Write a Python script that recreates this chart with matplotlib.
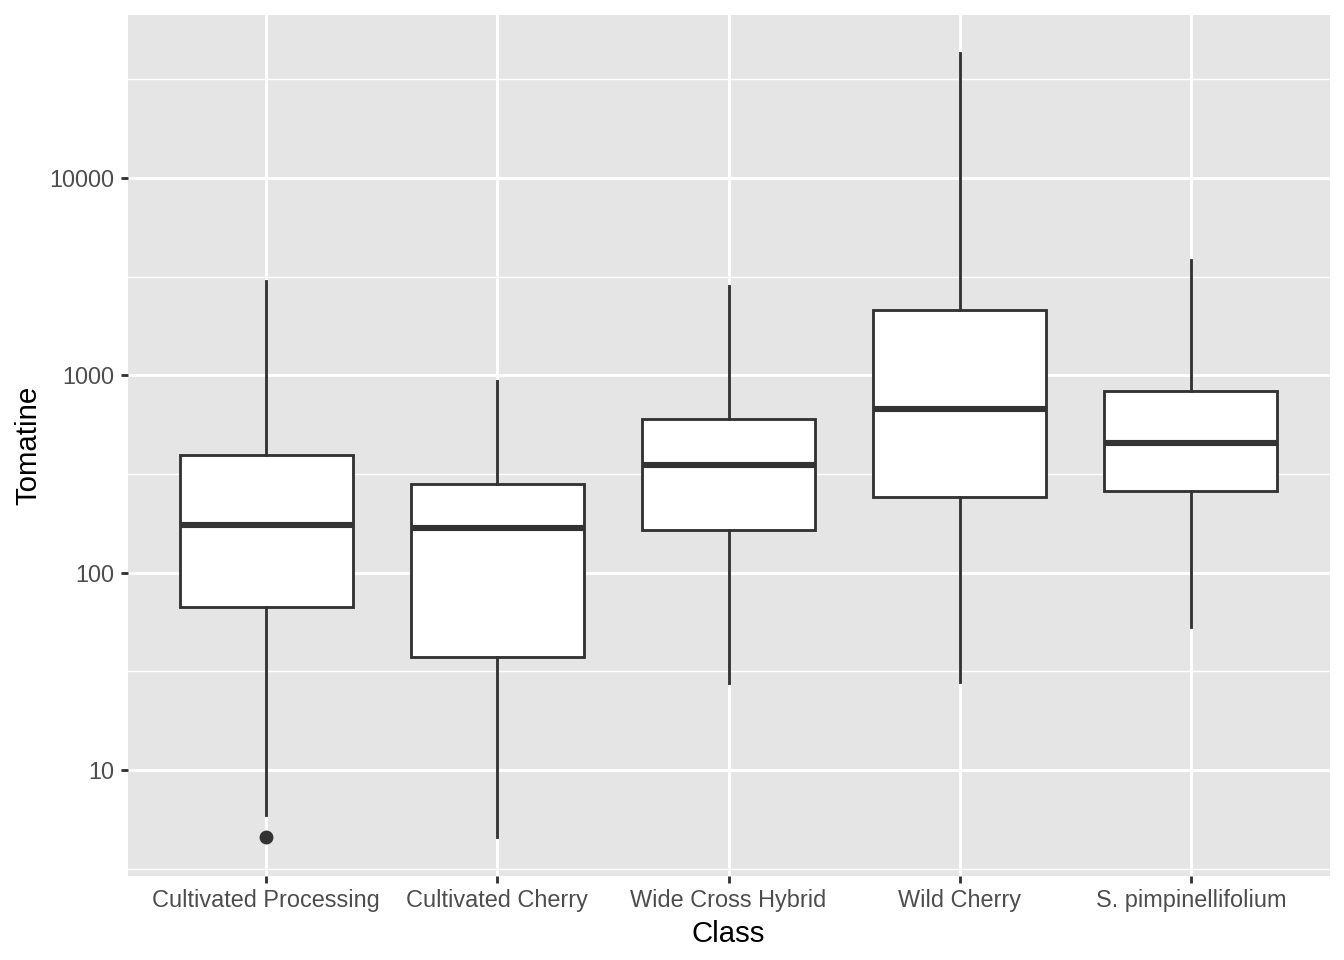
import numpy as np
import matplotlib as mpl
import matplotlib.pyplot as plt

mpl.use('Agg')

classes = ["Cultivated Processing", "Cultivated Cherry", "Wide Cross Hybrid",
           "Wild Cherry", "S. pimpinellifolium"]
whisker_low = [5.9, 4.6, 27.7, 27.9, 53]
q1 = [67, 37.5, 165, 243, 258]
median = [175, 169, 353, 679, 452]
q3 = [393, 280, 598, 2140, 830]
whisker_high = [3000, 933, 2830, 43100, 3840]
outliers = [[4.6], [], [], [], []]

plt.rcParams['font.family'] = ['Liberation Sans', 'DejaVu Sans']

fig = plt.figure(figsize=(7, 5), dpi=192)
ax = fig.add_axes([127.5 / 1344, 84 / 960, 1202 / 1344, 861 / 960])
ax.set_facecolor('#E5E5E5')
for s in ax.spines.values():
    s.set_visible(False)

ax.set_yscale('log')
ax.set_xlim(0.4, 5.6)
ax.set_ylim(10 ** 0.463, 10 ** 4.826)

# grid lines drawn by hand to get ggplot look
majors = [10, 100, 1000, 10000]
minors = [10 ** (k + 0.5) for k in range(0, 5)]
for m in minors:
    ax.axhline(m, color='white', lw=0.53, zorder=0)
for m in majors:
    ax.axhline(m, color='white', lw=1.07, zorder=0)
for i in range(len(classes)):
    ax.axvline(i + 1, color='white', lw=1.07, zorder=0)

stats = []
for i in range(len(classes)):
    stats.append(dict(whislo=whisker_low[i], q1=q1[i], med=median[i], q3=q3[i],
                      whishi=whisker_high[i], fliers=outliers[i]))

ax.bxp(stats, positions=np.arange(1, 6), widths=0.75, showcaps=False,
       patch_artist=True,
       boxprops=dict(facecolor='white', edgecolor='#333333', linewidth=1.07),
       medianprops=dict(color='#333333', linewidth=2.3, solid_capstyle='butt'),
       whiskerprops=dict(color='#333333', linewidth=1.07),
       flierprops=dict(marker='o', markerfacecolor='#333333', markeredgecolor='#333333',
                       markersize=4.2),
       zorder=2)

ax.set_xticks(np.arange(1, 6))
ax.set_xticklabels(classes)
ax.set_yticks(majors)
ax.set_yticklabels([str(m) for m in majors])
ax.yaxis.set_minor_locator(mpl.ticker.NullLocator())
ax.tick_params(axis='both', length=2.75, width=1.07, color='#333333',
               labelsize=8.8, labelcolor='#4D4D4D', pad=2.2)

ax.set_xlabel("Class", fontsize=11, color='black', labelpad=2.75)
ax.set_ylabel("Tomatine", fontsize=11, color='black', labelpad=2.75)

fig.savefig("out.png", dpi=192)
